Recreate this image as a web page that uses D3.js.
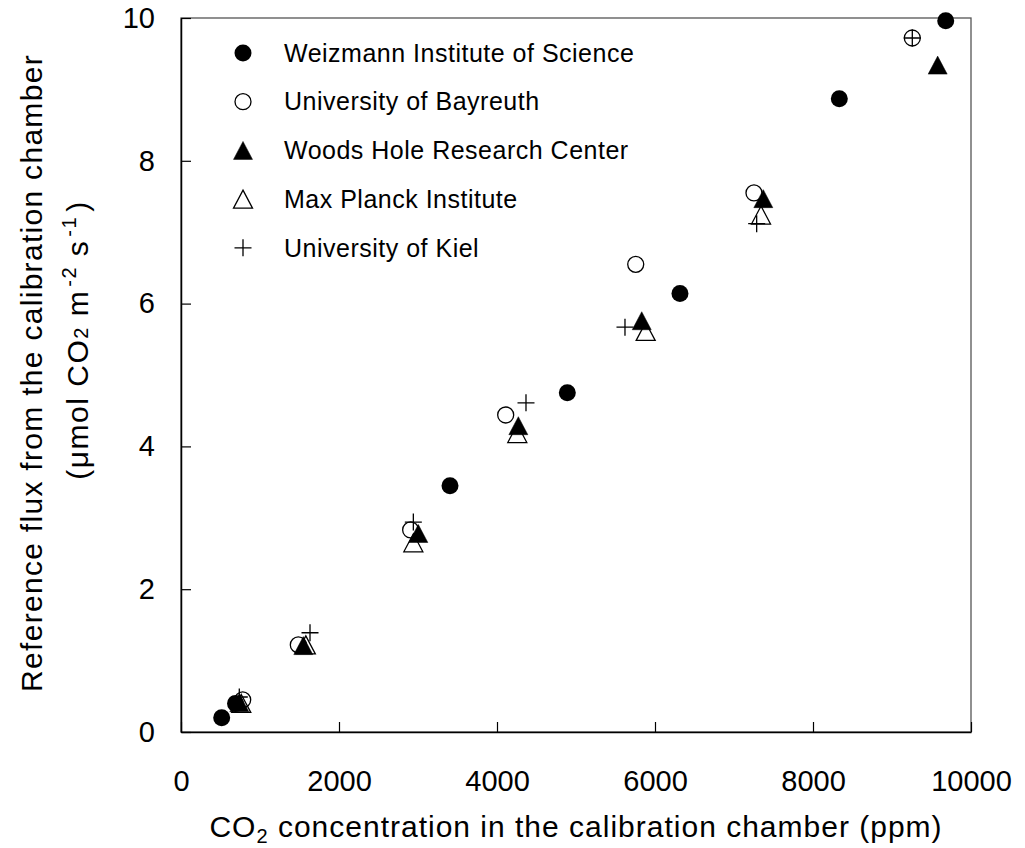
<html>
<head>
<script src="https://cdn.jsdelivr.net/npm/d3@7"></script>
<style>
  body { margin: 0; background: #fff; }
  text { font-family: "Liberation Sans", Arial, sans-serif; fill: #000; }
</style>
</head>
<body>
<svg width="1025" height="848"></svg>
<script>
  // series: [CO2 ppm, reference flux]
  var weizmann = [[515,0.20],[690,0.40],[3405,3.45],[4890,4.75],[6316,6.14],[8333,8.87],[9680,9.96]]
  var bayreuth = [[781,0.45],[1485,1.22],[2907,2.83],[4110,4.44],[5756,6.55],[7253,7.55],[9257,9.72]]
  var woodsHole = [[738,0.41],[1548,1.21],[3004,2.78],[4270,4.29],[5832,5.76],[7371,7.47],[9578,9.34]]
  var maxPlanck = [[763,0.40],[1580,1.22],[2941,2.65],[4257,4.18],[5882,5.61],[7342,7.24]]
  var kiel = [[738,0.49],[1633,1.39],[2941,2.94],[4367,4.61],[5620,5.67],[7287,7.12],[9257,9.72]]

  var seriesNames = ['Weizmann Institute of Science','University of Bayreuth','Woods Hole Research Center','Max Planck Institute','University of Kiel']
  var seriesData = [weizmann, bayreuth, woodsHole, maxPlanck, kiel]
  var seriesMarks = ['dot','circle','tri','opentri','plus']

  var xTicks = [0,2000,4000,6000,8000,10000]
  var yTicks = [0,2,4,6,8,10]

  var svg = d3.select('svg')
  // plot box (note: "top" is reserved on window, so use prefixed names)
  var pLeft = 181, pRight = 971, pTop = 18, pBottom = 732

  var x = d3.scaleLinear().domain([0,10000]).range([pLeft,pRight])
  var y = d3.scaleLinear().domain([0,10]).range([pBottom,pTop])

  // frame
  svg.append('rect')
    .attr('x', pLeft).attr('y', pTop)
    .attr('width', pRight-pLeft).attr('height', pBottom-pTop)
    .attr('fill','none').attr('stroke','#555').attr('stroke-width',1.3)

  var xAxis = svg.append('g')
    .attr('transform','translate(0,' + pBottom + ')')
    .call(d3.axisBottom(x).tickValues(xTicks).tickSizeInner(-10).tickSizeOuter(0).tickPadding(38).tickFormat(d3.format('d')))
  var yAxis = svg.append('g')
    .attr('transform','translate(' + pLeft + ',0)')
    .call(d3.axisLeft(y).tickValues(yTicks).tickSizeInner(-10).tickSizeOuter(0).tickPadding(26).tickFormat(d3.format('d')))

  ;[xAxis, yAxis].forEach(function(a){
    a.select('.domain').attr('stroke','#000').attr('stroke-width',1.5)
    a.selectAll('.tick line').attr('stroke','#000').attr('stroke-width',1.2)
    a.selectAll('.tick text').attr('font-size',29).attr('font-family','"Liberation Sans", Arial, sans-serif').attr('fill','#000')
  })

  function drawMark(g, kind, cx, cy){
    if (kind == 'dot') {
      g.append('circle').attr('cx',cx).attr('cy',cy).attr('r',8.5).attr('fill','#000')
    } else if (kind == 'circle') {
      g.append('circle').attr('cx',cx).attr('cy',cy).attr('r',8).attr('fill','none').attr('stroke','#000').attr('stroke-width',1.3)
    } else if (kind == 'tri' || kind == 'opentri') {
      var w = 19, h = 18
      g.append('path')
        .attr('d','M' + cx + ',' + (cy-h/2) + 'L' + (cx+w/2) + ',' + (cy+h/2) + 'L' + (cx-w/2) + ',' + (cy+h/2) + 'Z')
        .attr('fill', kind == 'tri' ? '#000' : 'none')
        .attr('stroke','#000').attr('stroke-width', kind == 'tri' ? 0.5 : 1.3)
    } else {
      var s = 8.5
      g.append('path')
        .attr('d','M' + (cx-s) + ',' + cy + 'H' + (cx+s) + 'M' + cx + ',' + (cy-s) + 'V' + (cy+s))
        .attr('stroke','#000').attr('stroke-width',1.3).attr('fill','none')
    }
  }

  var pts = svg.append('g')
  seriesData.forEach(function(data, i){
    var g = pts.append('g')
    data.forEach(function(d){
      drawMark(g, seriesMarks[i], x(d[0]), y(d[1]))
    })
  })

  // legend
  var legend = svg.append('g')
  seriesNames.forEach(function(name, i){
    var ly = 53 + i*48.7
    drawMark(legend, seriesMarks[i], 243, ly)
    legend.append('text')
      .attr('x', 284).attr('y', ly)
      .attr('dy','0.35em')
      .attr('font-size', 25)
      .attr('letter-spacing', 0.5)
      .text(name)
  })

  // x title
  var xt = svg.append('text')
    .attr('x', (pLeft+pRight)/2).attr('y', 837)
    .attr('text-anchor','middle')
    .attr('font-size', 30)
    .attr('letter-spacing', 1)
  xt.append('tspan').text('CO')
  xt.append('tspan').attr('font-size',20).attr('dy',6).text('2')
  xt.append('tspan').attr('dy',-6).text(' concentration in the calibration chamber (ppm)')

  // y title, two lines
  svg.append('text')
    .attr('transform','translate(42,373) rotate(-90)')
    .attr('text-anchor','middle')
    .attr('font-size', 30)
    .attr('letter-spacing', 1.3)
    .text('Reference flux from the calibration chamber')

  var yt = svg.append('text')
    .attr('transform','translate(88,340) rotate(-90)')
    .attr('text-anchor','middle')
    .attr('font-size', 30)
    .attr('letter-spacing', 1.5)
  yt.append('tspan').text('(\u03bcmol CO')
  yt.append('tspan').attr('font-size',20).text('2')
  yt.append('tspan').text(' m')
  yt.append('tspan').attr('font-size',20).attr('dx',3).attr('dy',-12).text('-2')
  yt.append('tspan').attr('dy',12).text('  s')
  yt.append('tspan').attr('font-size',20).attr('dx',3).attr('dy',-12).text('-1')
  yt.append('tspan').attr('dx',4).attr('dy',12).text(')')
</script>
</body>
</html>
